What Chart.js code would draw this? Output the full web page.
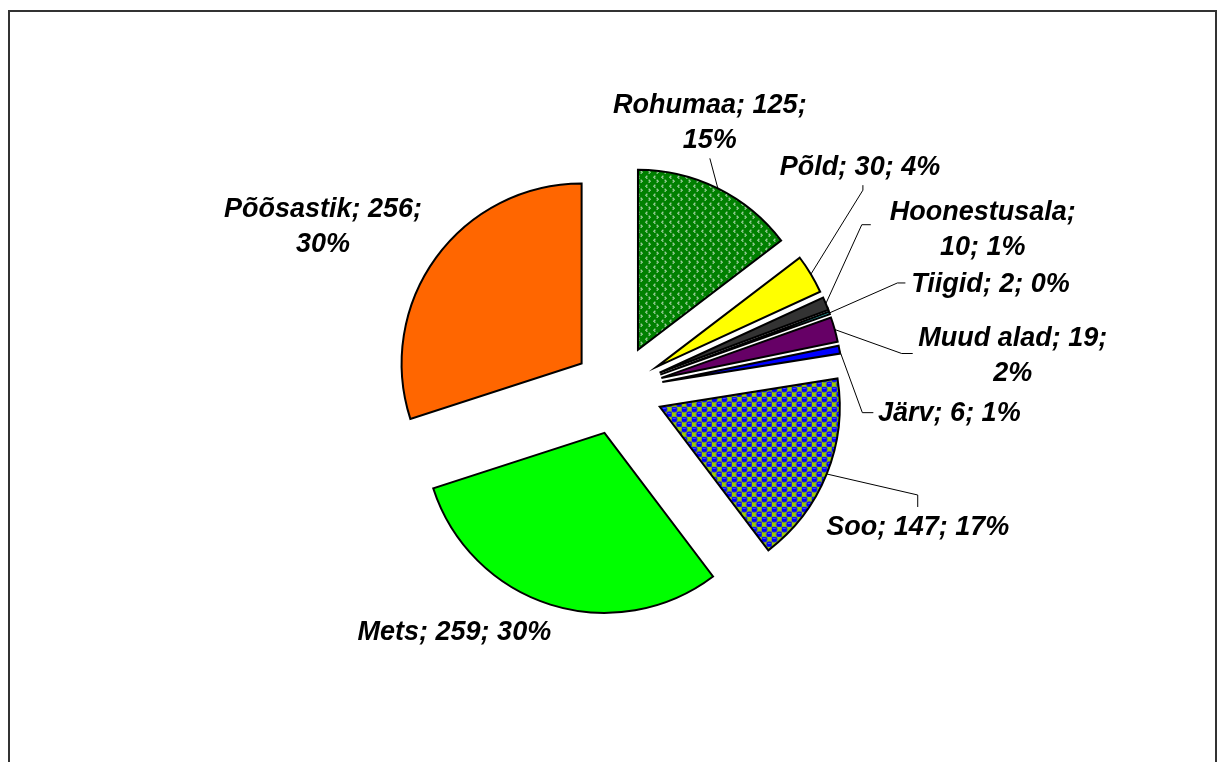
<!DOCTYPE html>
<html>
<head>
<meta charset="utf-8">
<script src="https://cdn.jsdelivr.net/npm/chart.js@4"></script>
<style>
  html, body { margin: 0; padding: 0; background: #fff; overflow: hidden; }
  canvas { display: block; }
</style>
</head>
<body>
<canvas id="landChart" width="1224" height="762"></canvas>
<script>
// Land use categories and areas
var categories = ['Rohumaa', 'Põld', 'Hoonestusala', 'Tiigid', 'Muud alad', 'Järv', 'Soo', 'Mets', 'Põõsastik'];
var areas = [125, 30, 10, 2, 19, 6, 147, 259, 256];

var explode = 45; // px every slice is pulled out

// label placement relative to the outer middle of each slice (style only)
var labelShift = [[-8, -75], [49, -99], [157, -84], [161, -21], [178, 16], [110, 71], [91, 61], [-96, 35], [-113, -41]];
var leaders = [
    [[-8, -30]],
    [[52, -84], [52, -89]],
    [[36, -79], [45, -79]],
    [[68, -30], [76, -30]],
    [[67, 24], [78, 24]],
    [[23, 63], [34, 63]],
    [[91, 21], [91, 33]],
    null,
    null
];

function makePattern(w, h, draw) {
    var c = document.createElement('canvas');
    c.width = w;
    c.height = h;
    var g = c.getContext('2d');
    draw(g);
    return g.createPattern(c, 'repeat');
}

var ctx = document.getElementById('landChart').getContext('2d');

// dark green with small light chevrons
var grassPattern = makePattern(8, 9, function (g) {
    g.fillStyle = '#008000';
    g.fillRect(0, 0, 8, 9);
    g.fillStyle = '#b4dcb4';
    g.fillRect(2, 0, 1, 1); g.fillRect(1, 1, 1, 1); g.fillRect(2, 2, 1, 1);
    g.fillRect(5, 4, 1, 1); g.fillRect(6, 5, 1, 1); g.fillRect(5, 6, 1, 1);
    g.fillStyle = '#66b066';
    g.fillRect(3, 0, 1, 1); g.fillRect(2, 1, 1, 1); g.fillRect(3, 2, 1, 1);
    g.fillRect(4, 4, 1, 1); g.fillRect(5, 5, 1, 1); g.fillRect(4, 6, 1, 1);
});

// blue circles on a yellow-green checker
var bogPattern = makePattern(10, 10, function (g) {
    g.fillStyle = '#99cc00';
    g.fillRect(0, 0, 10, 10);
    g.fillStyle = '#0000ff';
    g.beginPath(); g.arc(2.5, 2.5, 3, 0, Math.PI * 2); g.fill();
    g.beginPath(); g.arc(7.5, 7.5, 3, 0, Math.PI * 2); g.fill();
    g.fillStyle = '#5a5aff';
    g.fillRect(1, 1, 3, 1); g.fillRect(6, 6, 3, 1);
});

var fills = [grassPattern, '#ffff00', '#333333', '#33cccc', '#660066', '#0000ff', bogPattern, '#00ff00', '#ff6600'];

var total = areas.reduce((a, b) => a + b, 0);

var frame = {
    id: 'frame',
    beforeDraw(chart) {
        var c = chart.ctx;
        c.save();
        c.fillStyle = '#fff';
        c.fillRect(0, 0, chart.width, chart.height);
        c.strokeStyle = '#333';
        c.lineWidth = 2;
        c.strokeRect(9, 11, 1207, 800);
        c.restore();
    }
};

// pull each slice out the same distance along its middle angle
var explodeSlices = {
    id: 'explodeSlices',
    beforeDatasetDraw(chart, args) {
        var c = chart.ctx;
        args.meta.data.forEach(a => {
            var mid = (a.startAngle + a.endAngle) / 2;
            c.save();
            c.translate(Math.cos(mid) * explode, Math.sin(mid) * explode);
            a.draw(c);
            c.restore();
        });
        return false;
    }
};

var sliceLabels = {
    id: 'sliceLabels',
    afterDraw(chart) {
        var c = chart.ctx;
        var arcs = chart.getDatasetMeta(0).data;
        c.save();
        c.font = 'italic bold 27px "Liberation Sans", Arial, sans-serif';
        c.textAlign = 'center';
        c.textBaseline = 'alphabetic';
        c.fillStyle = '#000';
        c.strokeStyle = '#000';
        c.lineWidth = 1;
        arcs.forEach((a, i) => {
            var mid = (a.startAngle + a.endAngle) / 2;
            var px = a.x + Math.cos(mid) * (a.outerRadius + explode);
            var py = a.y + Math.sin(mid) * (a.outerRadius + explode);

            if (leaders[i]) {
                c.beginPath();
                c.moveTo(px, py);
                leaders[i].forEach(p => c.lineTo(px + p[0], py + p[1]));
                c.stroke();
            }

            var pct = Math.round(areas[i] / total * 100);
            var words = (categories[i] + '; ' + areas[i] + '; ' + pct + '%').split(' ');
            var lines = [];
            var cur = '';
            words.forEach(w => {
                var t = cur ? cur + ' ' + w : w;
                if (cur && c.measureText(t).width > 210) {
                    lines.push(cur);
                    cur = w;
                } else {
                    cur = t;
                }
            });
            lines.push(cur);

            var lx = px + labelShift[i][0];
            var ly = py + labelShift[i][1];
            lines.forEach((l, k) => c.fillText(l, lx, ly + k * 35));
        });
        c.restore();
    }
};

var chart = new Chart(ctx, {
    type: 'pie',
    data: {
        labels: categories,
        datasets: [{
            data: areas,
            backgroundColor: fills,
            borderColor: '#000',
            borderWidth: 2,
            borderJoinStyle: 'miter'
        }]
    },
    options: {
        responsive: false,
        devicePixelRatio: 1,
        animation: false,
        radius: 180,
        layout: {
            padding: { left: 12, right: 0, top: 18, bottom: 0 }
        },
        plugins: {
            legend: { display: false },
            tooltip: { enabled: false }
        }
    },
    plugins: [frame, explodeSlices, sliceLabels]
});
</script>
</body>
</html>
